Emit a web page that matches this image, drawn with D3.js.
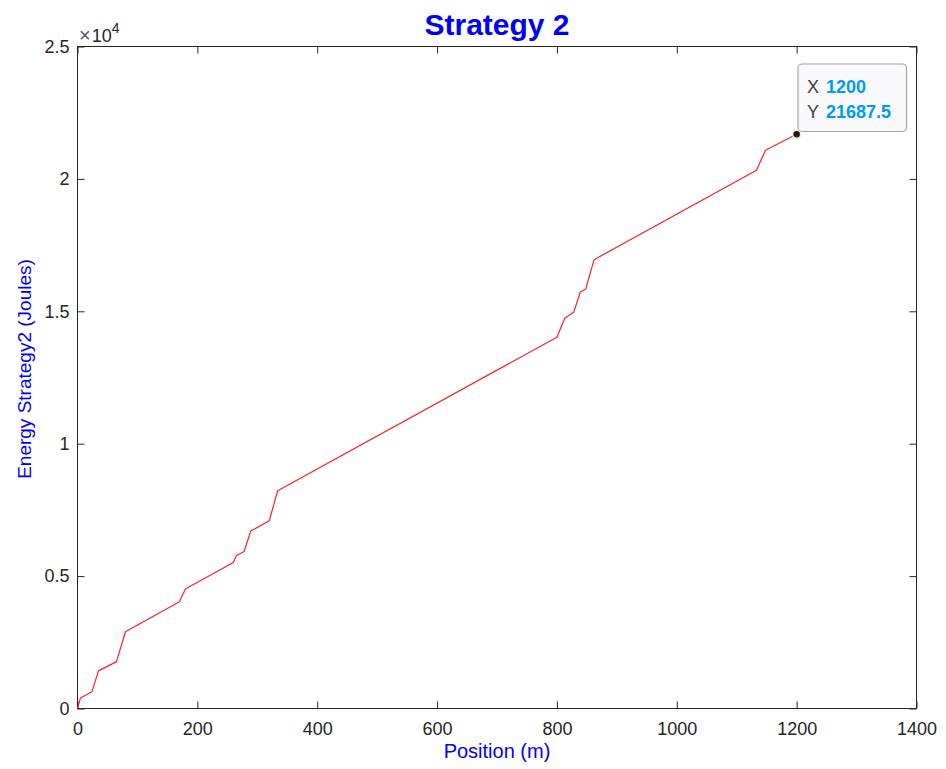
<!DOCTYPE html>
<html>
<head>
<meta charset="utf-8">
<script src="https://cdn.jsdelivr.net/npm/d3@7"></script>
<style>
  html, body { margin: 0; padding: 0; background: #fff; }
  svg { display: block; font-family: "Liberation Sans", Arial, Helvetica, sans-serif; }
</style>
</head>
<body>
<svg id="chart" width="946" height="769"></svg>
<script>
// ---- data ----
const positions = [0, 5, 24, 35, 65, 80, 170, 180, 260, 265, 278, 289, 320, 334,
                   800, 813, 828, 839, 848, 862, 1133, 1148, 1200];
const energy = [0, 400, 630, 1420, 1770, 2900, 4030, 4510, 5510, 5770, 5930, 6700, 7090, 8220,
                14020, 14740, 14960, 15730, 15840, 16950, 20330, 21080, 21687.5];
const xTicks = [0, 200, 400, 600, 800, 1000, 1200, 1400];
const yTicks = [0, 5000, 10000, 15000, 20000, 25000];
const yTickLabels = ["0", "0.5", "1", "1.5", "2", "2.5"];
const tipPoint = { x: 1200, y: 21687.5 };

const titleText = "Strategy 2";
const xLabelText = "Position (m)";
const yLabelText = "Energy Strategy2 (Joules)";

// ---- layout ----
const L = 77.5, R = 916.5, T = 46.5, B = 708.5;
const axisColor = "#262626";
const svg = d3.select("#chart");

const x = d3.scaleLinear().domain([0, 1400]).range([L, R]);
const y = d3.scaleLinear().domain([0, 25000]).range([B, T]);

// box
svg.append("rect").attr("x", L).attr("y", T).attr("width", R - L).attr("height", B - T)
  .attr("fill", "#fff").attr("stroke", axisColor).attr("stroke-width", 1);

const tickLen = 7;
// bottom axis (inward ticks)
const xAxis = d3.axisBottom(x).tickValues(xTicks).tickSize(-tickLen).tickPadding(14)
  .tickFormat(d3.format("d"));
const gx = svg.append("g").attr("transform", `translate(0,${B})`).call(xAxis);
gx.select(".domain").remove();
gx.selectAll("line").attr("stroke", axisColor);
gx.selectAll("text").attr("fill", axisColor).attr("font-size", 18)
  .attr("font-family", "Liberation Sans, Arial, sans-serif").attr("dy", "0.71em");

// top ticks
const gxt = svg.append("g").attr("transform", `translate(0,${T})`)
  .call(d3.axisTop(x).tickValues(xTicks).tickSize(-tickLen).tickFormat(""));
gxt.select(".domain").remove();
gxt.selectAll("line").attr("stroke", axisColor);

// left axis
const yAxis = d3.axisLeft(y).tickValues(yTicks).tickSize(-tickLen).tickPadding(8)
  .tickFormat((d, i) => yTickLabels[i]);
const gy = svg.append("g").attr("transform", `translate(${L},0)`).call(yAxis);
gy.select(".domain").remove();
gy.selectAll("line").attr("stroke", axisColor);
gy.selectAll("text").attr("fill", axisColor).attr("font-size", 18)
  .attr("font-family", "Liberation Sans, Arial, sans-serif");

// right ticks
const gyr = svg.append("g").attr("transform", `translate(${R},0)`)
  .call(d3.axisRight(y).tickValues(yTicks).tickSize(-tickLen).tickFormat(""));
gyr.select(".domain").remove();
gyr.selectAll("line").attr("stroke", axisColor);

// exponent label x10^4
const ex = svg.append("text").attr("x", 79).attr("y", 42).attr("fill", axisColor)
  .attr("font-size", 18);
ex.append("tspan").text("\u00D7").attr("font-size", 20).attr("fill", "#555");
ex.append("tspan").text("10").attr("dx", 1);
ex.append("tspan").text("4").attr("font-size", 14).attr("dy", -9);

// line
const line = d3.line().x((d, i) => x(positions[i])).y((d, i) => y(energy[i]));
svg.append("path").datum(positions).attr("d", line)
  .attr("fill", "none").attr("stroke", "#ff2020").attr("stroke-width", 1.2)
  .attr("stroke-linejoin", "round");

// title and labels
svg.append("text").attr("x", (L + R) / 2).attr("y", 35).attr("text-anchor", "middle")
  .attr("font-size", 30).attr("font-weight", "bold").attr("fill", "#0000ff").text(titleText);
svg.append("text").attr("x", (L + R) / 2).attr("y", 758).attr("text-anchor", "middle")
  .attr("font-size", 20).attr("fill", "#0000ff").text(xLabelText);
svg.append("text").attr("transform", "translate(31,369) rotate(-90)").attr("text-anchor", "middle")
  .attr("font-size", 19).attr("fill", "#0000ff").text(yLabelText);

// data tip
const tx = x(tipPoint.x), ty = y(tipPoint.y);
svg.append("rect").attr("x", 798).attr("y", 64).attr("width", 108.5).attr("height", 67.5)
  .attr("rx", 4).attr("fill", "#f9f9fc").attr("stroke", "#a6a6a6").attr("stroke-width", 1.2);
const tipLines = [["X", String(tipPoint.x)], ["Y", String(tipPoint.y)]];
tipLines.forEach((p, i) => {
  const t = svg.append("text").attr("x", 807).attr("y", 93 + i * 24.5).attr("font-size", 18);
  t.append("tspan").text(p[0]).attr("fill", "#404040");
  t.append("tspan").text(p[1]).attr("x", 826).attr("fill", "#0099ff").attr("font-weight", "bold");
});
svg.append("circle").attr("cx", tx).attr("cy", ty).attr("r", 4)
  .attr("fill", "#1a1a1a").attr("stroke", "#f4efc2").attr("stroke-width", 1.5);
</script>
</body>
</html>
